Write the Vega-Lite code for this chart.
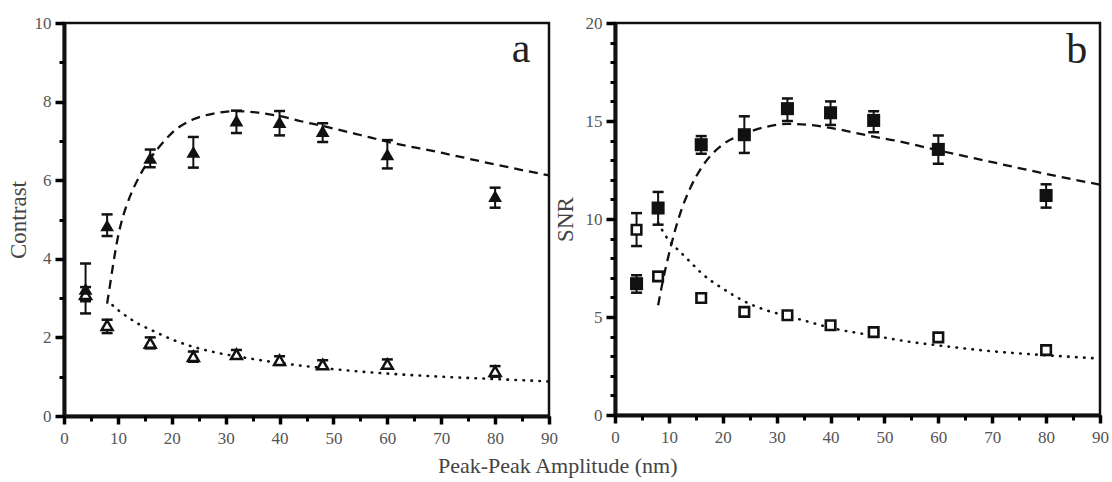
{
  "$schema": "https://vega.github.io/schema/vega-lite/v6.json",
  "background": "white",
  "padding": {"left": 5, "top": 12, "right": 2, "bottom": 2},
  "title": {"text": "Peak-Peak Amplitude (nm)", "orient": "bottom", "anchor": "middle", "fontSize": 22, "fontWeight": "normal", "color": "#444", "font": "Liberation Serif", "offset": 9},
  "datasets": {
    "contrast_pts": [
      {"x": 4, "series": "filled", "y": 3.24, "lo": 2.61, "hi": 3.88},
      {"x": 8, "series": "filled", "y": 4.85, "lo": 4.58, "hi": 5.13},
      {"x": 16, "series": "filled", "y": 6.57, "lo": 6.33, "hi": 6.78},
      {"x": 24, "series": "filled", "y": 6.72, "lo": 6.32, "hi": 7.1},
      {"x": 32, "series": "filled", "y": 7.52, "lo": 7.2, "hi": 7.77},
      {"x": 40, "series": "filled", "y": 7.48, "lo": 7.14, "hi": 7.76},
      {"x": 48, "series": "filled", "y": 7.25, "lo": 6.97, "hi": 7.45},
      {"x": 60, "series": "filled", "y": 6.66, "lo": 6.3, "hi": 7.02},
      {"x": 80, "series": "filled", "y": 5.6, "lo": 5.3, "hi": 5.81},
      {"x": 4, "series": "open", "y": 3.1, "lo": 2.92, "hi": 3.28},
      {"x": 8, "series": "open", "y": 2.31, "lo": 2.11, "hi": 2.45},
      {"x": 16, "series": "open", "y": 1.86, "lo": 1.72, "hi": 2.0},
      {"x": 24, "series": "open", "y": 1.52, "lo": 1.38, "hi": 1.64},
      {"x": 32, "series": "open", "y": 1.57, "lo": 1.46, "hi": 1.68},
      {"x": 40, "series": "open", "y": 1.42, "lo": 1.3, "hi": 1.52},
      {"x": 48, "series": "open", "y": 1.31, "lo": 1.21, "hi": 1.42},
      {"x": 60, "series": "open", "y": 1.32, "lo": 1.21, "hi": 1.44},
      {"x": 80, "series": "open", "y": 1.14, "lo": 1.0, "hi": 1.27}
    ],
    "contrast_dash": [
      {"x": 8, "y": 2.86}, {"x": 8.5, "y": 3.3}, {"x": 9, "y": 3.75}, {"x": 10, "y": 4.55},
      {"x": 11, "y": 5.1}, {"x": 12, "y": 5.5}, {"x": 14, "y": 6.1}, {"x": 16, "y": 6.55},
      {"x": 18, "y": 6.9}, {"x": 20, "y": 7.2}, {"x": 24, "y": 7.55}, {"x": 28, "y": 7.7},
      {"x": 32, "y": 7.76}, {"x": 36, "y": 7.72}, {"x": 40, "y": 7.63}, {"x": 44, "y": 7.5},
      {"x": 48, "y": 7.38}, {"x": 55, "y": 7.15}, {"x": 60, "y": 6.98}, {"x": 70, "y": 6.7},
      {"x": 80, "y": 6.4}, {"x": 90, "y": 6.12}
    ],
    "contrast_dot": [
      {"x": 9, "y": 2.82}, {"x": 10, "y": 2.7}, {"x": 12, "y": 2.5}, {"x": 14, "y": 2.33},
      {"x": 16, "y": 2.2}, {"x": 20, "y": 1.95}, {"x": 24, "y": 1.76}, {"x": 28, "y": 1.62},
      {"x": 32, "y": 1.52}, {"x": 36, "y": 1.43}, {"x": 40, "y": 1.35}, {"x": 48, "y": 1.22},
      {"x": 55, "y": 1.13}, {"x": 60, "y": 1.08}, {"x": 70, "y": 1.0}, {"x": 80, "y": 0.94},
      {"x": 90, "y": 0.88}
    ],
    "snr_pts": [
      {"x": 4, "series": "filled", "y": 6.7, "lo": 6.24, "hi": 7.13},
      {"x": 8, "series": "filled", "y": 10.56, "lo": 9.71, "hi": 11.38},
      {"x": 16, "series": "filled", "y": 13.79, "lo": 13.33, "hi": 14.23},
      {"x": 24, "series": "filled", "y": 14.3, "lo": 13.37, "hi": 15.24},
      {"x": 32, "series": "filled", "y": 15.63, "lo": 15.0, "hi": 16.15},
      {"x": 40, "series": "filled", "y": 15.42, "lo": 14.8, "hi": 16.0},
      {"x": 48, "series": "filled", "y": 15.03, "lo": 14.43, "hi": 15.5},
      {"x": 60, "series": "filled", "y": 13.55, "lo": 12.82, "hi": 14.26},
      {"x": 80, "series": "filled", "y": 11.2, "lo": 10.58, "hi": 11.77},
      {"x": 4, "series": "open", "y": 9.45, "lo": 8.62, "hi": 10.3},
      {"x": 8, "series": "open", "y": 7.07, "lo": 6.85, "hi": 7.3},
      {"x": 16, "series": "open", "y": 5.97, "lo": 5.85, "hi": 6.1},
      {"x": 24, "series": "open", "y": 5.26, "lo": 5.15, "hi": 5.38},
      {"x": 32, "series": "open", "y": 5.09, "lo": 4.92, "hi": 5.22},
      {"x": 40, "series": "open", "y": 4.58, "lo": 4.47, "hi": 4.68},
      {"x": 48, "series": "open", "y": 4.23, "lo": 4.15, "hi": 4.3},
      {"x": 60, "series": "open", "y": 3.96, "lo": 3.8, "hi": 4.1},
      {"x": 80, "series": "open", "y": 3.31, "lo": 3.22, "hi": 3.4}
    ],
    "snr_dash": [
      {"x": 8, "y": 5.6}, {"x": 9, "y": 7.0}, {"x": 10, "y": 8.2}, {"x": 12, "y": 10.2},
      {"x": 14, "y": 11.6}, {"x": 16, "y": 12.6}, {"x": 20, "y": 13.8}, {"x": 24, "y": 14.35},
      {"x": 28, "y": 14.7}, {"x": 32, "y": 14.85}, {"x": 36, "y": 14.8}, {"x": 40, "y": 14.65},
      {"x": 48, "y": 14.2}, {"x": 52, "y": 14.0}, {"x": 60, "y": 13.5}, {"x": 70, "y": 12.9},
      {"x": 80, "y": 12.3}, {"x": 90, "y": 11.75}
    ],
    "snr_dot": [
      {"x": 8, "y": 9.8}, {"x": 10, "y": 8.9}, {"x": 12, "y": 8.35}, {"x": 14, "y": 7.8},
      {"x": 16, "y": 7.25}, {"x": 20, "y": 6.45}, {"x": 24, "y": 5.8}, {"x": 28, "y": 5.35},
      {"x": 32, "y": 5.05}, {"x": 36, "y": 4.75}, {"x": 40, "y": 4.45}, {"x": 48, "y": 4.05},
      {"x": 55, "y": 3.72}, {"x": 60, "y": 3.55}, {"x": 70, "y": 3.25}, {"x": 80, "y": 3.05},
      {"x": 90, "y": 2.88}
    ],
    "label_a": [{"label": "a"}],
    "label_b": [{"label": "b"}]
  },
  "bounds": "flush",
  "spacing": 66,
  "hconcat": [
    {
      "width": 485,
      "height": 393,
      "resolve": {"axis": {"x": "independent", "y": "independent"}},
      "layer": [
        {"data": {"name": "contrast_dash"}, "mark": {"type": "line", "interpolate": "monotone", "color": "#111", "strokeWidth": 2.3, "strokeDash": [9, 6]},
          "encoding": {
            "x": {"field": "x", "type": "quantitative", "scale": {"domain": [0, 90], "nice": false, "zero": false},
              "axis": {"orient": "bottom", "title": null, "tickCount": 9, "labelFlush": false, "grid": false,
                "ticks": true, "tickSize": 8, "tickWidth": 3.5, "tickColor": "black",
                "domain": true, "domainWidth": 4, "domainColor": "#111",
                "labelPadding": 6, "labelFont": "Liberation Serif", "labelFontSize": 17, "labelColor": "#555"}},
            "y": {"field": "y", "type": "quantitative", "scale": {"domain": [0, 10], "nice": false},
              "axis": {"orient": "left", "title": "Contrast", "tickCount": 5, "labelFlush": false, "grid": false,
                "ticks": true, "tickSize": 9, "tickWidth": 3.5, "tickColor": "black",
                "domain": true, "domainWidth": 4, "domainColor": "#111",
                "labelPadding": 4, "labelFont": "Liberation Serif", "labelFontSize": 17, "labelColor": "#555",
                "titleFont": "Liberation Serif", "titleFontSize": 23, "titleFontWeight": "normal", "titleColor": "#444", "titlePadding": 4}}
          }},
        {"data": {"name": "contrast_dot"}, "mark": {"type": "line", "interpolate": "monotone", "color": "#111", "strokeWidth": 2.6, "strokeDash": [0.5, 7.5], "strokeCap": "round"},
          "encoding": {
            "x": {"field": "x", "type": "quantitative",
              "axis": {"orient": "bottom", "title": null, "tickCount": 18, "labels": false, "domain": false, "grid": false,
                "ticks": true, "tickSize": 5, "tickWidth": 3, "tickColor": "black"}},
            "y": {"field": "y", "type": "quantitative",
              "axis": {"orient": "left", "title": null, "tickCount": 10, "labels": false, "domain": false, "grid": false,
                "ticks": true, "tickSize": 5, "tickWidth": 3, "tickColor": "black"}}
          }},
        {"data": {"name": "contrast_pts"}, "mark": {"type": "rule", "color": "#111", "strokeWidth": 2},
          "encoding": {"x": {"field": "x", "type": "quantitative", "axis": null}, "y": {"field": "lo", "type": "quantitative", "axis": null}, "y2": {"field": "hi"}}},
        {"data": {"name": "contrast_pts"}, "mark": {"type": "tick", "orient": "horizontal", "color": "#111", "thickness": 2.5, "size": 11, "opacity": 1},
          "encoding": {"x": {"field": "x", "type": "quantitative", "axis": null}, "y": {"field": "lo", "type": "quantitative", "axis": null}}},
        {"data": {"name": "contrast_pts"}, "mark": {"type": "tick", "orient": "horizontal", "color": "#111", "thickness": 2.5, "size": 11, "opacity": 1},
          "encoding": {"x": {"field": "x", "type": "quantitative", "axis": null}, "y": {"field": "hi", "type": "quantitative", "axis": null}}},
        {"data": {"name": "contrast_pts"}, "transform": [{"filter": "datum.series === 'open'"}],
          "mark": {"type": "point", "shape": "triangle-up", "filled": false, "fill": "white", "fillOpacity": 1, "stroke": "#111", "strokeWidth": 2.5, "opacity": 1, "size": 120},
          "encoding": {"x": {"field": "x", "type": "quantitative", "axis": null}, "y": {"field": "y", "type": "quantitative", "axis": null}}},
        {"data": {"name": "contrast_pts"}, "transform": [{"filter": "datum.series === 'filled'"}],
          "mark": {"type": "point", "shape": "triangle-up", "filled": true, "color": "#111", "opacity": 1, "size": 190},
          "encoding": {"x": {"field": "x", "type": "quantitative", "axis": null}, "y": {"field": "y", "type": "quantitative", "axis": null}}},
        {"data": {"name": "label_a"}, "mark": {"type": "text", "font": "Liberation Serif", "fontSize": 42, "color": "#222", "align": "center", "baseline": "middle"},
          "encoding": {"text": {"field": "label"}, "x": {"datum": 84.8, "type": "quantitative", "axis": null}, "y": {"datum": 9.35, "type": "quantitative", "axis": null}}}
      ]
    },
    {
      "width": 485,
      "height": 392,
      "resolve": {"axis": {"x": "independent", "y": "independent"}},
      "layer": [
        {"data": {"name": "snr_dash"}, "mark": {"type": "line", "interpolate": "monotone", "color": "#111", "strokeWidth": 2.3, "strokeDash": [9, 6]},
          "encoding": {
            "x": {"field": "x", "type": "quantitative", "scale": {"domain": [0, 90], "nice": false, "zero": false},
              "axis": {"orient": "bottom", "title": null, "tickCount": 9, "labelFlush": false, "grid": false,
                "ticks": true, "tickSize": 8, "tickWidth": 3.5, "tickColor": "black",
                "domain": true, "domainWidth": 4, "domainColor": "#111",
                "labelPadding": 6, "labelFont": "Liberation Serif", "labelFontSize": 17, "labelColor": "#555"}},
            "y": {"field": "y", "type": "quantitative", "scale": {"domain": [0, 20], "nice": false},
              "axis": {"orient": "left", "title": "SNR", "tickCount": 4, "labelFlush": false, "grid": false,
                "ticks": true, "tickSize": 9, "tickWidth": 3.5, "tickColor": "black",
                "domain": true, "domainWidth": 4, "domainColor": "#111",
                "labelPadding": 4, "labelFont": "Liberation Serif", "labelFontSize": 17, "labelColor": "#555",
                "titleFont": "Liberation Serif", "titleFontSize": 23, "titleFontWeight": "normal", "titleColor": "#444", "titlePadding": 8}}
          }},
        {"data": {"name": "snr_dot"}, "mark": {"type": "line", "interpolate": "monotone", "color": "#111", "strokeWidth": 2.6, "strokeDash": [0.5, 7.5], "strokeCap": "round"},
          "encoding": {
            "x": {"field": "x", "type": "quantitative",
              "axis": {"orient": "bottom", "title": null, "tickCount": 18, "labels": false, "domain": false, "grid": false,
                "ticks": true, "tickSize": 5, "tickWidth": 3, "tickColor": "black"}},
            "y": {"field": "y", "type": "quantitative",
              "axis": {"orient": "left", "title": null, "tickCount": 20, "labels": false, "domain": false, "grid": false,
                "ticks": true, "tickSize": 5, "tickWidth": 3, "tickColor": "black"}}
          }},
        {"data": {"name": "snr_pts"}, "mark": {"type": "rule", "color": "#111", "strokeWidth": 2},
          "encoding": {"x": {"field": "x", "type": "quantitative", "axis": null}, "y": {"field": "lo", "type": "quantitative", "axis": null}, "y2": {"field": "hi"}}},
        {"data": {"name": "snr_pts"}, "mark": {"type": "tick", "orient": "horizontal", "color": "#111", "thickness": 2.5, "size": 11, "opacity": 1},
          "encoding": {"x": {"field": "x", "type": "quantitative", "axis": null}, "y": {"field": "lo", "type": "quantitative", "axis": null}}},
        {"data": {"name": "snr_pts"}, "mark": {"type": "tick", "orient": "horizontal", "color": "#111", "thickness": 2.5, "size": 11, "opacity": 1},
          "encoding": {"x": {"field": "x", "type": "quantitative", "axis": null}, "y": {"field": "hi", "type": "quantitative", "axis": null}}},
        {"data": {"name": "snr_pts"}, "transform": [{"filter": "datum.series === 'open'"}],
          "mark": {"type": "point", "shape": "square", "filled": false, "fill": "white", "fillOpacity": 1, "stroke": "#111", "strokeWidth": 2.6, "opacity": 1, "size": 90},
          "encoding": {"x": {"field": "x", "type": "quantitative", "axis": null}, "y": {"field": "y", "type": "quantitative", "axis": null}}},
        {"data": {"name": "snr_pts"}, "transform": [{"filter": "datum.series === 'filled'"}],
          "mark": {"type": "point", "shape": "square", "filled": true, "color": "#111", "opacity": 1, "size": 170},
          "encoding": {"x": {"field": "x", "type": "quantitative", "axis": null}, "y": {"field": "y", "type": "quantitative", "axis": null}}},
        {"data": {"name": "label_b"}, "mark": {"type": "text", "font": "Liberation Serif", "fontSize": 42, "color": "#222", "align": "center", "baseline": "middle"},
          "encoding": {"text": {"field": "label"}, "x": {"datum": 85.7, "type": "quantitative", "axis": null}, "y": {"datum": 18.6, "type": "quantitative", "axis": null}}}
      ]
    }
  ],
  "config": {
    "font": "Liberation Serif",
    "view": {"stroke": "#111", "strokeWidth": 2.5}
  }
}
